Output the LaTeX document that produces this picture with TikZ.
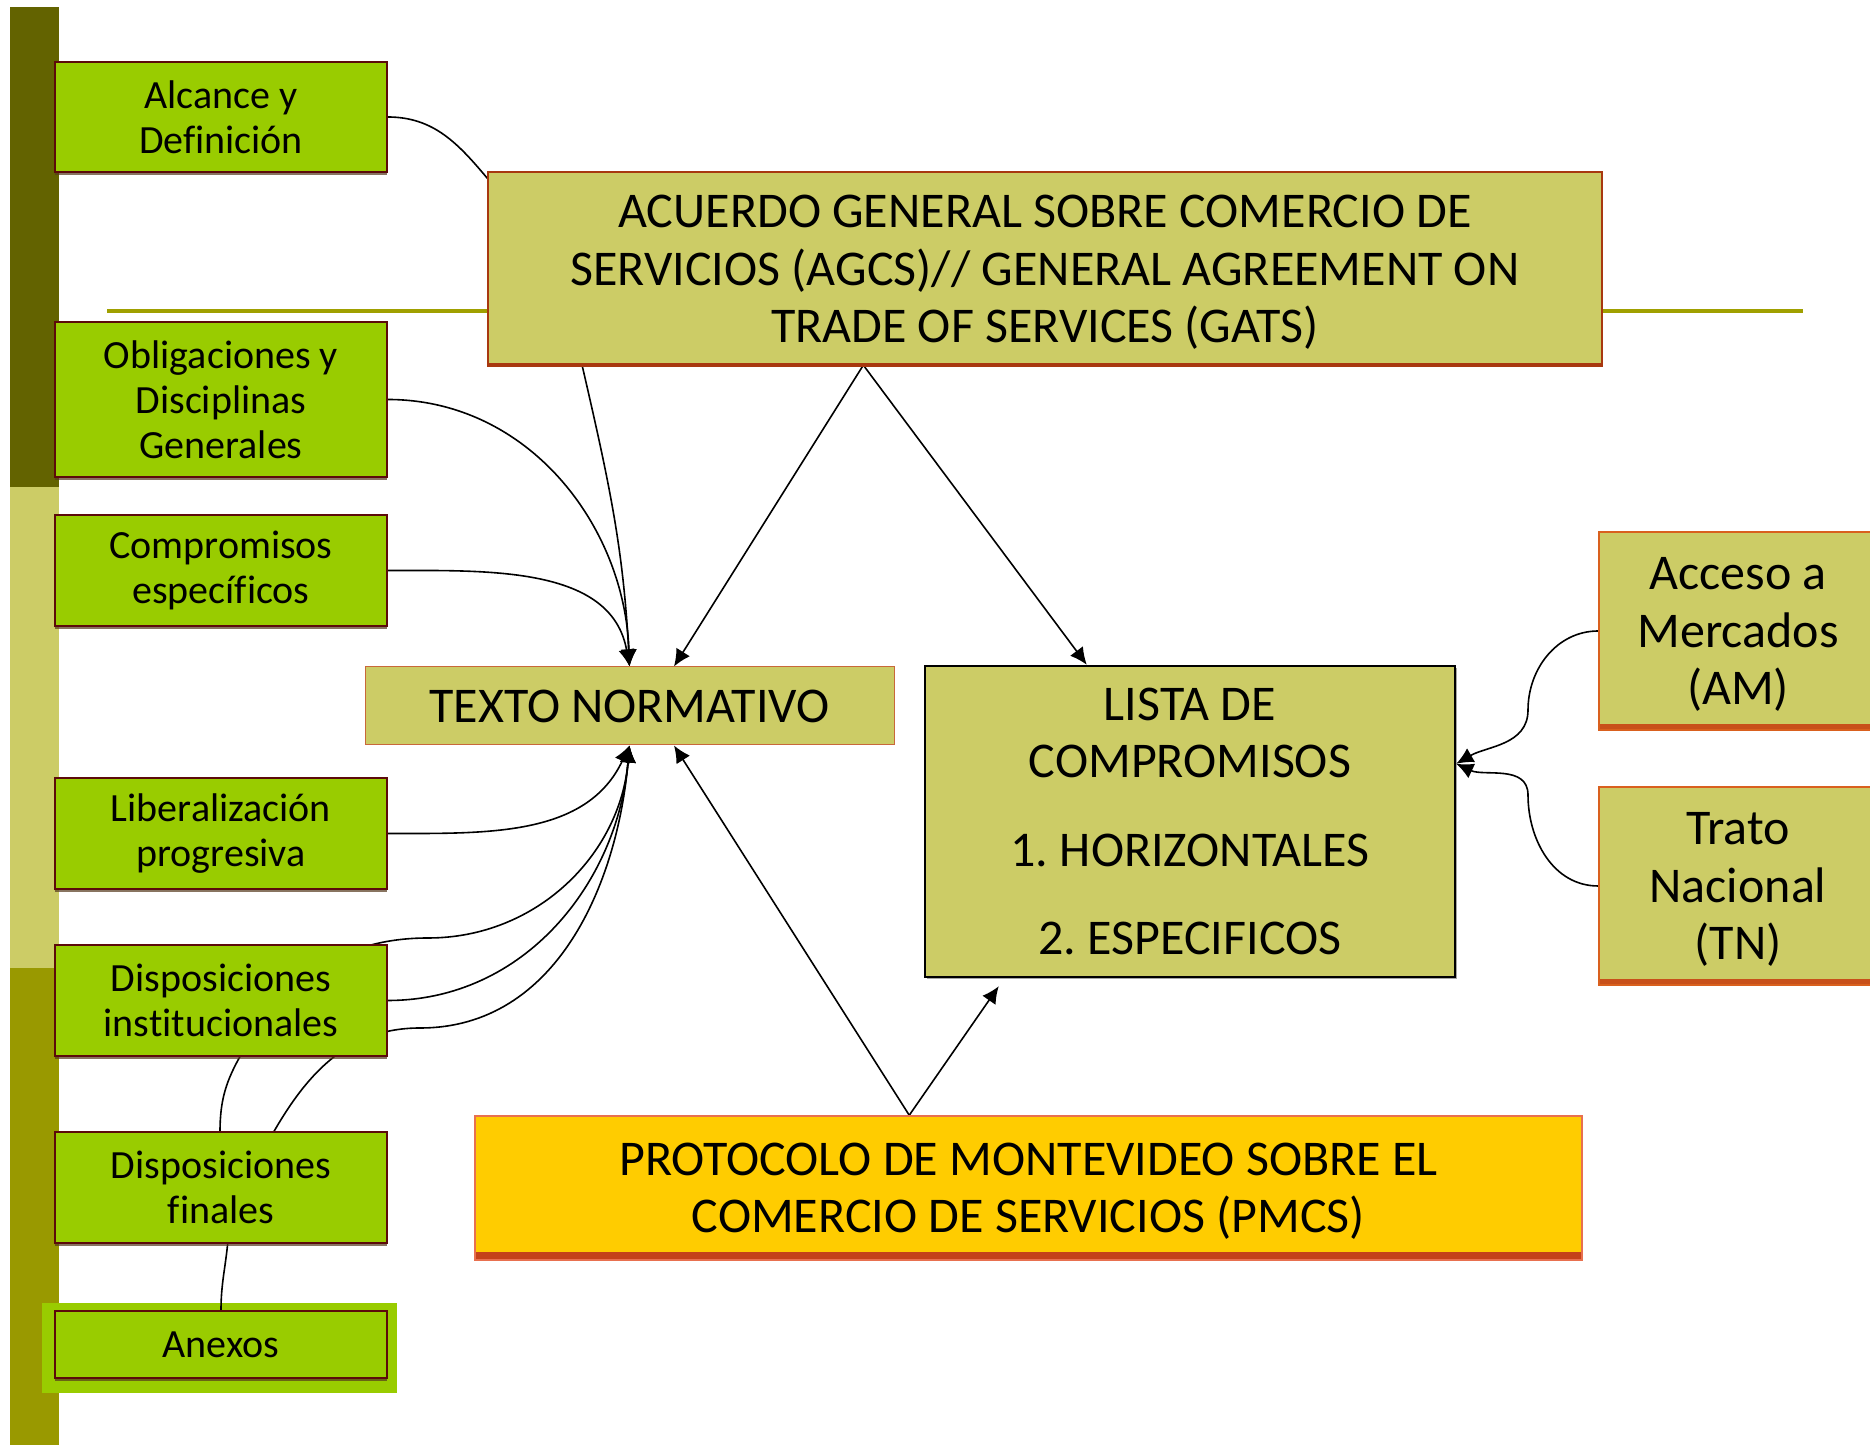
\documentclass[tikz,border=0pt]{standalone}
\usepackage{fontspec}
\setmainfont[Ligatures=NoCommon]{Carlito}
\usetikzlibrary{arrows.meta,calc,backgrounds,shadows}
\definecolor{grn}{HTML}{99CC00}
\definecolor{olv}{HTML}{CCCC66}
\definecolor{olvdark}{HTML}{636300}
\definecolor{olvmid}{HTML}{999900}
\definecolor{hlinec}{HTML}{A0A000}
\definecolor{yel}{HTML}{FFCC00}
\definecolor{maroonc}{HTML}{5C0A0A}
\definecolor{rust}{HTML}{A8380F}
\definecolor{orng}{HTML}{D9601E}
\definecolor{orngdk}{HTML}{C8501A}
\definecolor{salmonc}{HTML}{E8704F}
\definecolor{pmstripe}{HTML}{C4421A}
\definecolor{txbord}{HTML}{C8683A}
\newcommand{\bigtxt}{\fontsize{50}{57.5}\selectfont\frenchspacing}
\newcommand{\smtxt}{\fontsize{40}{45}\selectfont\frenchspacing}
\begin{document}
\begin{tikzpicture}[x=1pt,y=1pt,
  stripe/.style 2 args={path picture={\fill[#1] (path picture bounding box.south west) rectangle ([yshift=#2]path picture bounding box.south east);}},
  greenbox/.style={fill=grn, draw=maroonc, line width=1.2pt, minimum width=332pt, inner sep=0pt, font=\smtxt, align=center,
    drop shadow={shadow xshift=0pt, shadow yshift=-3pt, fill=black!55!brown, opacity=0.7}},
  olvbox/.style={fill=olv, inner sep=0pt, font=\bigtxt, align=center, text depth=0pt},
  sidebox/.style={olvbox, draw=orng, line width=1.5pt, minimum width=278pt, minimum height=198pt, stripe={orngdk}{6pt}},
  conn/.style={draw=black, line width=1.6pt},
  arr/.style={conn, -{Latex[length=17pt,width=16pt]}}
]
\useasboundingbox (0,0) rectangle (1870,1445);

% left boxes
\node[greenbox, minimum height=110pt] (alc) at (221,1328) {Alcance y\\Definición};
\node[greenbox, minimum height=155pt] (obl) at (221,1045.5) {Obligaciones y\\Disciplinas\\Generales};
\node[greenbox, minimum height=111pt] (comp) at (221,874.5) {Compromisos\\específicos};
\node[greenbox, minimum height=111pt] (lib) at (221,611.5) {Liberalización\\progresiva};
\node[greenbox, minimum height=111pt] (dinst) at (221,444.5) {Disposiciones\\institucionales};
\node[greenbox, minimum height=111pt] (dfin) at (221,257.5) {Disposiciones\\finales};
\node[greenbox, minimum height=67pt] (anx) at (221,100.5) {Anexos};

% main boxes
\node[olvbox, draw=rust, line width=1.2pt, minimum width=1114pt, minimum height=194pt, stripe={rust}{3pt}] (agcs) at (1045,1176)
  {ACUERDO GENERAL SOBRE COMERCIO DE\\SERVICIOS (AGCS)// GENERAL AGREEMENT ON\\TRADE OF SERVICES (GATS)};
\node[olvbox, draw=txbord, line width=1pt, minimum width=529pt, minimum height=78pt] (texto) at (629.5,739) {TEXTO NORMATIVO};
\node[olvbox, draw=black, line width=2.5pt, minimum width=530pt, minimum height=311pt,
  drop shadow={shadow xshift=2pt, shadow yshift=-2pt, fill=black, opacity=0.35}] (lista) at (1190,623.5)
  {LISTA DE\\COMPROMISOS\\[31pt]1. HORIZONTALES\\[31pt]2. ESPECIFICOS};
\node[sidebox] (am) at (1738,814) {Acceso a\\Mercados\\(AM)};
\node[sidebox] (tn) at (1738,559) {Trato\\Nacional\\(TN)};
\node[olvbox, fill=yel, draw=salmonc, line width=1.5pt, minimum width=1107pt, minimum height=144pt, stripe={pmstripe}{8pt}] (pmcs) at (1028.5,257)
  {PROTOCOLO DE MONTEVIDEO SOBRE EL\\COMERCIO DE SERVICIOS (PMCS)};

\begin{scope}[on background layer]
  % side bar
  \fill[olvdark] (10,958) rectangle (59,1438);
  \fill[olv] (10,477) rectangle (59,958);
  \fill[olvmid] (10,0) rectangle (59,477);
  % horizontal rule
  \draw[hlinec, line width=4pt] (107,1134) -- (1803,1134);
  % frame around Anexos
  \fill[grn] (42,52) rectangle (397,142);

  % waypoints
  \coordinate (a1) at ($(agcs.south west)+(95,0)$);
  \coordinate (a2) at ($(agcs.south west)+(375,0)$);
  \coordinate (a3) at ($(agcs.south west)+(377,0)$);
  \coordinate (pm) at ($(pmcs.north west)+(435,0)$);
  \coordinate (lin) at ($(lista.north east)+(0,-99)$);
  \coordinate (w1) at (420,417);
  \coordinate (v1) at (228,205);
  \coordinate (v2) at (220,313);
  \coordinate (v3) at (242,392);
  \coordinate (v4) at (428,507);
  \coordinate (r1) at (1528,735);
  \coordinate (r2) at (1528,650);

  \draw[conn] (alc.east) to[out=0,in=130] ($(agcs.north west)+(0,-7)$);
  \draw[arr] (obl.east) to[out=0,in=92] (texto.north);
  \draw[arr] (a1) to[out=-77,in=93] (texto.north);
  \draw[arr] (comp.east) to[out=0,in=100] (texto.north);
  \draw[arr] (a2) -- ($(texto.north)+(44.5,0)$);
  \draw[arr] (a3) -- ($(lista.north west)+(163,0)$);
  \draw[arr] (lib.east) to[out=0,in=-115] (texto.south);
  \draw[arr] (dinst.east) to[out=0,in=-95] (texto.south);
  \draw[arr] ($(dfin.north)+(53,0)$) to[out=60,in=180] (w1) to[out=0,in=-95] (texto.south);
  \draw[arr] (anx.north) to[out=90,in=-95] (v1) to[out=85,in=-90] (v2) to[out=90,in=-120] (v3)
     to[out=60,in=180] (v4) to[out=0,in=-95] (texto.south);
  \draw[arr] (pm) -- ($(texto.south)+(44.5,0)$);
  \draw[arr] (pm) -- ($(lista.south west)+(75,-8)$);
  \draw[arr] (am.west) to[out=180,in=90] (r1) to[out=-90,in=30] (lin);
  \draw[arr] (tn.west) to[out=180,in=-90] (r2) to[out=90,in=-25] (lin);
\end{scope}
\end{tikzpicture}
\end{document}
